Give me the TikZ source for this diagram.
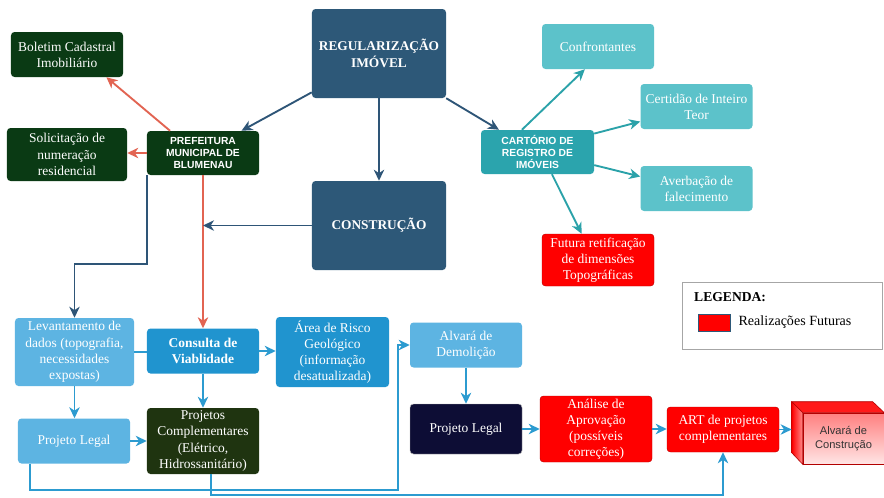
\documentclass[tikz,border=0pt]{standalone}
\usepackage{fontspec}
\setmainfont{Liberation Serif}
\setsansfont{Liberation Sans}
\usepackage{xcolor}
\usepackage{tikz}
\usetikzlibrary{arrows.meta,positioning,calc}
\definecolor{RegBlue}{HTML}{2D5878}
\definecolor{PrefGreen}{HTML}{0A3A14}
\definecolor{CompGreen}{HTML}{1F3410}
\definecolor{CartTeal}{HTML}{2BA4AD}
\definecolor{CartLight}{HTML}{5CC2CA}
\definecolor{SkyBlue}{HTML}{5DB4E2}
\definecolor{MidBlue}{HTML}{2094CF}
\definecolor{NightBlue}{HTML}{0D0D35}
\definecolor{FutureRed}{HTML}{FF0000}
\definecolor{ArrowDark}{HTML}{2E5577}
\definecolor{ArrowRed}{HTML}{E26452}
\definecolor{ArrowTeal}{HTML}{2BA2A9}
\definecolor{ArrowBlue}{HTML}{2C9BD0}

\begin{document}
\begin{tikzpicture}[
  x=0.03cm, y=-0.03cm,
  flowstep/.style={rounded corners=3pt, minimum width=3.36cm, minimum height=1.35cm, align=center, text=white, inner sep=1pt, font=\fontsize{11.5}{13.8}\selectfont},
  greenstep/.style={flowstep, fill=PrefGreen},
  regstep/.style={flowstep, fill=RegBlue, minimum width=4.02cm, minimum height=2.67cm, font=\bfseries\fontsize{11.4}{14.5}\selectfont},
  capsstep/.style={flowstep, minimum height=1.32cm, font=\sffamily\bfseries\fontsize{8.8}{10.2}\selectfont},
  cartstep/.style={flowstep, fill=CartLight},
  skystep/.style={flowstep, fill=SkyBlue},
  midstep/.style={flowstep, fill=MidBlue},
  futurestep/.style={flowstep, fill=FutureRed, draw=FutureRed!75!black, line width=0.4pt},
  cubefront/.style={draw=FutureRed!70!black, line width=0.5pt, top color=FutureRed!50, bottom color=FutureRed!10, minimum width=2.43cm, minimum height=1.53cm, align=center, inner sep=1pt, text=black!80, font=\sffamily\fontsize{9.5}{11.5}\selectfont},
  cubeedge/.style={draw=FutureRed!70!black, line width=0.5pt},
  arrow/.style={-{Stealth[length=3.3mm,width=3.1mm,inset=1mm]}, line width=1.6pt},
  darkarrow/.style={arrow, color=ArrowDark},
  redarrow/.style={arrow, color=ArrowRed},
  tealarrow/.style={arrow, color=ArrowTeal},
  bluearrow/.style={arrow, color=ArrowBlue}
]
  \path[use as bounding box, fill=white] (0,0) rectangle (884,497);

  % centre and prefeitura
  \node[regstep] (reg) at (379,53.5) {REGULARIZAÇÃO\\IMÓVEL};
  \node[regstep] (cons) at (379,225.5) {CONSTRUÇÃO};
  \node[greenstep] (boletim) at (67,54.5) {Boletim Cadastral\\Imobiliário};
  \node[greenstep, minimum width=3.6cm, minimum height=1.59cm] (solic) at (67,154.5) {Solicitação de\\numeração\\residencial};
  \node[capsstep, fill=PrefGreen] (pref) at (203,153) {PREFEITURA\\MUNICIPAL DE\\BLUMENAU};

  % cartorio
  \node[capsstep, fill=CartTeal, minimum width=3.39cm] (cart) at (537.5,152) {CARTÓRIO DE\\REGISTRO DE\\IMÓVEIS};
  \node[cartstep] (confr) at (598,46.5) {Confrontantes};
  \node[cartstep] (cert) at (696.5,106.5) {Certidão de Inteiro\\Teor};
  \node[cartstep] (averb) at (696.5,188.5) {Averbação de\\falecimento};
  \node[futurestep, minimum height=1.56cm] (futura) at (598,260) {Futura retificação\\de dimensões\\Topográficas};

  % legenda
  \node[draw=gray!70, line width=0.6pt, fill=white, minimum width=6cm, minimum height=2.01cm] (legend) at (782,315.5) {};
  \node[anchor=west, inner sep=0pt, font=\bfseries\fontsize{11.6}{14}\selectfont] (legtitle) at (694,297) {LEGENDA:};
  \node[fill=FutureRed, draw=RegBlue, line width=0.6pt, minimum width=0.96cm, minimum height=0.51cm, inner sep=0pt] (legswatch) at (714,322.5) {};
  \node[right=0.24cm of legswatch, inner sep=0pt, font=\fontsize{12}{14}\selectfont] (legtext) {Realizações Futuras};

  % construcao
  \node[skystep, minimum width=3.57cm, minimum height=2.04cm] (levant) at (74.5,352) {Levantamento de\\dados (topografia,\\necessidades\\expostas)};
  \node[midstep, font=\bfseries\fontsize{11.5}{13.8}\selectfont] (consulta) at (203,351) {Consulta de\\Viablidade};
  \node[midstep, minimum width=3.39cm, minimum height=2.1cm] (area) at (332.5,352) {Área de Risco\\Geológico\\(informação\\desatualizada)};
  \node[skystep] (alvdemo) at (466,345) {Alvará de\\Demolição};
  \node[skystep] (projleg) at (74,441) {Projeto Legal};
  \node[flowstep, fill=CompGreen, minimum height=1.98cm] (projcomp) at (203,441) {Projetos\\Complementares\\(Elétrico,\\Hidrossanitário)};
  \node[flowstep, fill=NightBlue, draw=gray!60, line width=0.4pt, minimum height=1.5cm] (projleg2) at (466,429) {Projeto Legal};
  \node[futurestep, minimum height=1.98cm] (analise) at (596,429) {Análise de\\Aprovação\\(possíveis\\correções)};
  \node[futurestep] (art) at (723,429.5) {ART de projetos\\complementares};

  % alvara de construcao (cubo)
  \node[cubefront] (alvcons) at (843.5,438.5) {Alvará de\\Construção};
  \draw[cubeedge, fill=FutureRed!90] (alvcons.north west) -- ++(-11,-11) -- ++(81,0) -- (alvcons.north east) -- cycle;
  \draw[cubeedge, left color=FutureRed, right color=FutureRed!45] (alvcons.north west) -- ++(-11,-11) -- ++(0,51) -- (alvcons.south west) -- cycle;
  \coordinate (alvleft) at ([xshift=-0.33cm]alvcons.west);
  \coordinate (lowline) at (0,495);

  \draw[darkarrow] (reg.210) -- (pref.30);
  \draw[darkarrow] (reg) -- (cons);
  \draw[darkarrow] (reg.south east) -- (cart.150);

  \draw[tealarrow] (cart.125) -- (confr.240);
  \draw[tealarrow] (cart.18) -- (cert.195);
  \draw[tealarrow] (cart.-13) -- (averb.168);
  \draw[tealarrow] (cart.-57) -- (futura.122);

  \draw[redarrow] (pref.146) -- (boletim.-30);
  \draw[redarrow] (pref.west) -- (pref.west -| solic.east);
  \draw[redarrow] (pref) -- (consulta);
  \draw[darkarrow] (cons.west) -- (cons.west -| pref.south);
  \draw[darkarrow] (pref.south west) -- ++(0,89) -| (levant.north);

  \draw[bluearrow, -] (levant.east) -- (consulta.west |- levant.east);
  \draw[bluearrow] (consulta.east) -- (consulta.east -| area.west);
  \draw[bluearrow] (consulta) -- (projcomp);
  \draw[bluearrow] (levant.south) -- (levant.south |- projleg.north);
  \draw[bluearrow] (projleg) -- (projcomp);
  \draw[bluearrow] ([xshift=-1.32cm]projleg.south) |- (398,490) |- (alvdemo.west);
  \draw[bluearrow] ([xshift=0.24cm]projcomp.south) |- (art.south |- lowline) -- (art.south);

  \draw[bluearrow] (alvdemo) -- (projleg2);
  \draw[bluearrow] (projleg2) -- (analise);
  \draw[bluearrow] (analise.east) -- (analise.east -| art.west);
  \draw[bluearrow] (art.east) -- (art.east -| alvleft);
\end{tikzpicture}
\end{document}
